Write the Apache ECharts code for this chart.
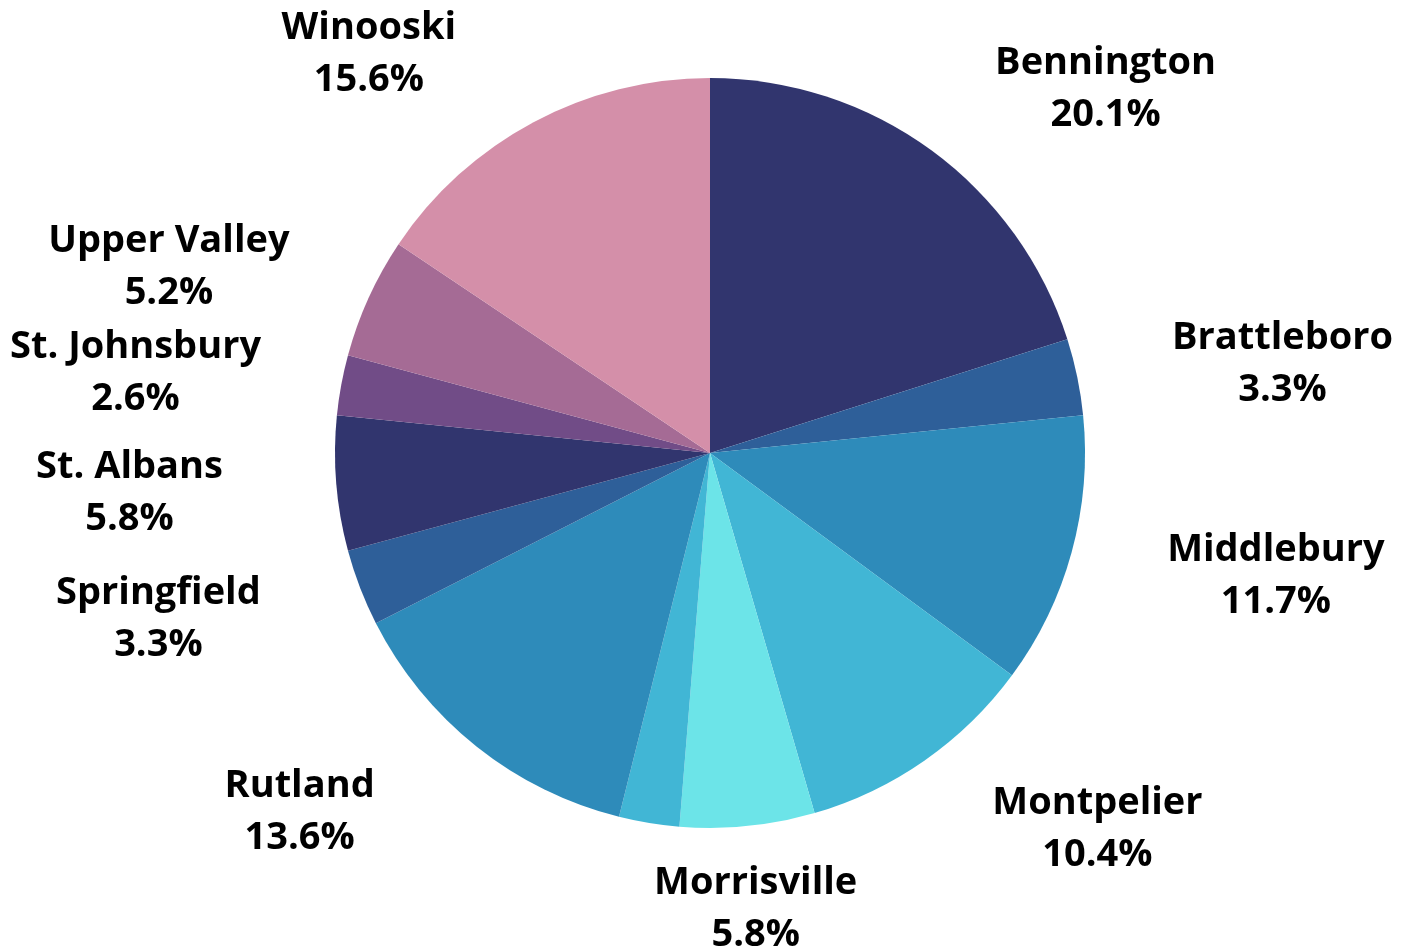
<!DOCTYPE html>
<html>
<head>
<meta charset="utf-8">
<script src="https://cdn.jsdelivr.net/npm/echarts@6/dist/echarts.min.js"></script>
<style>
html,body{margin:0;padding:0;background:#fff;}
#chart{width:1408px;height:949px;}
</style>
</head>
<body>
<div id="chart"></div>
<script>
// Data (clockwise from 12 o'clock)
var categories = ['Bennington','Brattleboro','Middlebury','Montpelier','Morrisville','Newport','Rutland','Springfield','St. Albans','St. Johnsbury','Upper Valley','Winooski'];
var values = [20.1, 3.3, 11.7, 10.4, 5.8, 2.6, 13.6, 3.3, 5.8, 2.6, 5.2, 15.6];
var showLabel = [true, true, true, true, true, false, true, true, true, true, true, true];
var colors = ['#31356e','#2e5f99','#2e8bba','#41b6d5','#6ce4e8','#41b6d5','#2e8bba','#2e5f99','#31356e','#714c87','#a56b95','#d48fa9'];

var BOX = 220; // label block width used to centre text
var TEXT_DY = 3; // small baseline nudge

var chart = echarts.init(document.getElementById('chart'), null, {renderer: 'canvas'});
var data = categories.map(function (c, i) {
  return {
    name: c,
    value: values[i],
    itemStyle: {color: colors[i]},
    label: {show: showLabel[i]},
    labelLine: {show: showLabel[i]}
  };
});

chart.setOption({
  animation: false,
  backgroundColor: '#ffffff',
  series: [{
    type: 'pie',
    center: ['710px', '453px'],
    radius: [0, 375],
    startAngle: 90,
    clockwise: true,
    avoidLabelOverlap: false,
    itemStyle: {borderWidth: 0},
    label: {
      show: true,
      position: 'outside',
      formatter: function (p) { return p.name + '\n' + p.value.toFixed(1) + '%'; },
      fontFamily: 'Open Sans',
      fontWeight: 'bold',
      fontSize: 38,
      lineHeight: 52,
      color: '#000000'
    },
    labelLine: {
      show: true,
      length: 80,
      length2: 12,
      lineStyle: {opacity: 0}
    },
    labelLayout: function (p) {
      var pts = p.labelLinePoints;
      if (!pts) return {};
      var p0 = pts[0], p1 = pts[1], p2 = pts[2];
      var ddx = p1[0] - p0[0], ddy = p1[1] - p0[1];
      var len = Math.sqrt(ddx * ddx + ddy * ddy) || 1;
      var side = p2[0] >= p1[0] ? 1 : -1;
      var x = Math.abs(ddx) / len < 0.15 ? p1[0] : p2[0] + side * (5 + BOX / 2);
      return {x: x, y: p2[1] + TEXT_DY, align: 'center', verticalAlign: 'middle'};
    },
    data: data
  }]
});
</script>
</body>
</html>
